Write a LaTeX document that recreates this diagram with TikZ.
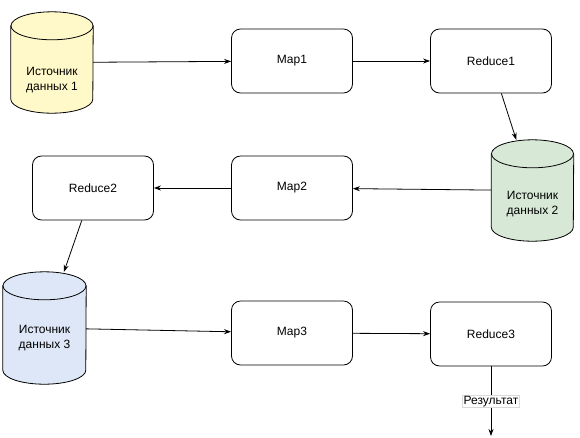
\documentclass[tikz,border=0pt]{standalone}
\usepackage{fontspec}
\setmainfont{Liberation Sans}
\usetikzlibrary{arrows.meta,positioning}
\definecolor{srcyellow}{RGB}{255,248,200}
\definecolor{srcgreen}{RGB}{215,233,214}
\definecolor{srcblue}{RGB}{222,231,247}

\begin{document}
\begin{tikzpicture}[x=1pt,y=-1pt]
\tikzset{
  procbox/.style={rectangle,draw=black,line width=0.8pt,rounded corners=9pt,minimum width=121pt,minimum height=64pt,font=\fontsize{12}{14}\selectfont},
  datastore/.style={rectangle,inner sep=0pt,minimum width=82pt,minimum height=101pt},
  storetext/.style={align=center,font=\fontsize{12}{14.5}\selectfont},
  storeline/.style={draw=black,line width=0.8pt},
  flow/.style={draw=black,line width=0.8pt,-{Stealth[length=7pt,width=5pt]}}
}
\useasboundingbox (0,0) rectangle (580,437);
\node[datastore] (n_S1) at (52,62.5) {};
\node[datastore] (n_S2) at (532.5,190.5) {};
\node[datastore,minimum width=83pt,minimum height=112pt] (n_S3) at (44.5,328) {};
% cylinders drawn over the store nodes
\foreach \s/\c/\r in {n_S1/srcyellow/41pt,n_S2/srcgreen/41pt,n_S3/srcblue/41.5pt} {
  \path[storeline,fill=\c] ([yshift=-14pt]\s.north west) -- ([yshift=14pt]\s.south west)
    arc[start angle=180,end angle=360,x radius=\r,y radius=14pt] -- ([yshift=-14pt]\s.north east) -- cycle;
  \path[storeline,fill=\c] ([yshift=-14pt]\s.north) ellipse[x radius=\r,y radius=14pt];
}
\node[storetext] (n_T1) at (52,80) {Источник\\данных 1};
\node[storetext] (n_T2) at (532.5,204) {Источник\\данных 2};
\node[storetext] (n_T3) at (44.5,338) {Источник\\данных 3};
\node[procbox] (n_M1) at (292,61) {Map1};
\node[procbox] (n_R1) at (491,61) {Reduce1};
\node[procbox] (n_M2) at (292,188) {Map2};
\node[procbox] (n_R2) at (93,188) {Reduce2};
\node[procbox] (n_M3) at (292,333) {Map3};
\node[procbox] (n_R3) at (491,334) {Reduce3};
\coordinate (n_out) at (491,436);
\draw[flow] (n_S1) -- (n_M1);
\draw[flow] (n_M1) -- (n_R1);
\draw[flow] (n_R1) -- (n_S2);
\draw[flow] (n_S2) -- (n_M2);
\draw[flow] (n_M2) -- (n_R2);
\draw[flow] (n_R2) -- (n_S3);
\draw[flow] (n_S3) -- (n_M3);
\draw[flow] (n_M3) -- (n_R3);
\draw[flow] (n_R3) -- node[fill=white,draw=black!15,line width=0.5pt,inner sep=1pt,font=\fontsize{12}{14}\selectfont] (n_res) {Результат} (n_out);
\end{tikzpicture}
\end{document}
